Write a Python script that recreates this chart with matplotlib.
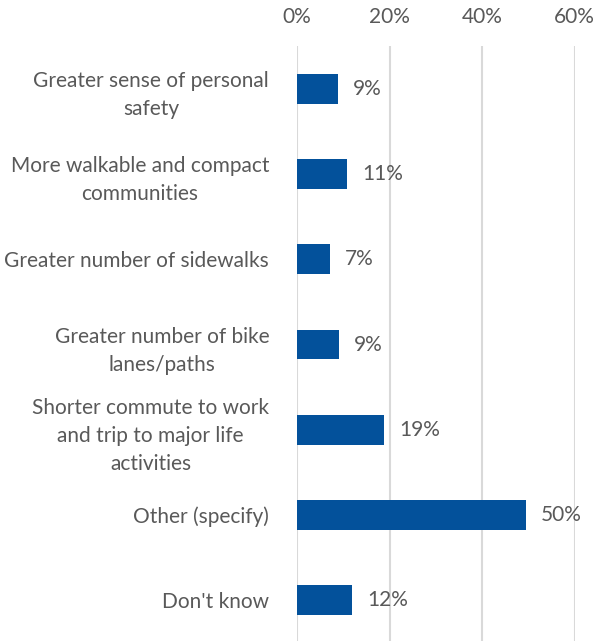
import numpy as np
import matplotlib
matplotlib.use('Agg')
from matplotlib import pyplot

pyplot.rcParams['font.family'] = ['Lato', 'DejaVu Sans']

categories = ["Greater sense of personal\nsafety",
              "More walkable and compact\ncommunities",
              "Greater number of sidewalks",
              "Greater number of bike\nlanes/paths",
              "Shorter commute to work\nand trip to major life\nactivities",
              "Other (specify)",
              "Don't know"]
values = [8.8, 10.8, 7.1, 9.0, 18.8, 49.4, 11.9]
labels = ["9%", "11%", "7%", "9%", "19%", "50%", "12%"]
xticks = [0, 20, 40, 60]

textColor = '#595959'
barColor = '#03519B'
gridColor = '#D9D9D9'

fig = pyplot.figure(figsize=(5.95, 6.41), dpi=100)
ax = fig.add_axes([0.499, -0.003, 0.966 - 0.499, 0.928 + 0.003])

yPos = np.arange(len(categories))
ax.barh(yPos, values, height=0.35, color=barColor, zorder=2)

for y, v, lab in zip(yPos, values, labels):
    ax.text(v + 3.3, y, lab, va='center', ha='left',
            fontsize=15, color=textColor)

ax.set_ylim(len(categories) - 0.5, -0.5)
ax.set_xlim(0, 60)
ax.set_yticks(yPos)
ax.set_yticklabels(categories, fontsize=15, color=textColor,
                   multialignment='center', linespacing=1.5)
ax.tick_params(axis='y', length=0, pad=20)

ax.xaxis.tick_top()
ax.set_xticks(xticks)
ax.set_xticklabels(["%d%%" % t for t in xticks], fontsize=15, color=textColor)
ax.tick_params(axis='x', length=0, pad=14)

ax.xaxis.grid(True, color=gridColor, lw=1.5, zorder=0)
for s in ax.spines.values():
    s.set_visible(False)

fig.savefig('out.png')
